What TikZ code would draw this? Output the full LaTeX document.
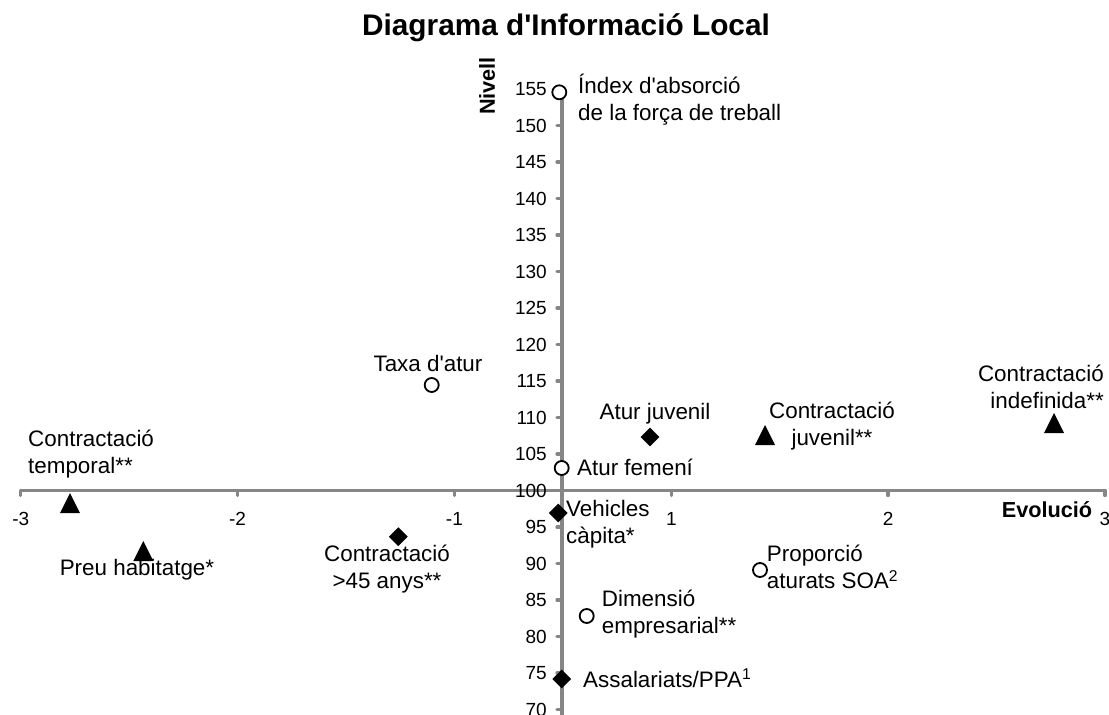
\documentclass[tikz,border=0pt]{standalone}
\usepackage{fontspec}
\setmainfont{Liberation Sans}[Ligatures=TeXOff]
\usetikzlibrary{shapes.geometric}
\definecolor{axgray}{RGB}{134,134,134}
\begin{document}
\begin{tikzpicture}[x=1pt,y=-1pt,
  axis/.style={draw=axgray,line width=3.3pt,line cap=round},
  lbl/.style={font=\fontsize{22.4}{27}\selectfont,inner sep=0pt},
  ticklbl/.style={font=\fontsize{19}{21}\selectfont,inner sep=0pt},
  axtitle/.style={font=\bfseries\fontsize{21.7}{24}\selectfont,inner sep=0pt},
  circ/.style={circle,draw=black,fill=white,line width=1.8pt,minimum size=14pt,inner sep=0pt},
  diam/.style={diamond,fill=black,minimum width=19pt,minimum height=19pt,inner sep=0pt},
  tri/.style={fill=black}
]
\useasboundingbox (0,0) rectangle (1109,715);
\fill[white] (0,0) rectangle (1109,715);
\clip (0,0) rectangle (1109,715);

% title
\node[font=\bfseries\fontsize{29.8}{32}\selectfont,inner sep=0pt] (title) at (566,28) {Diagrama d'Informació Local};

% axes
\coordinate (xl) at (20.7,490.5);
\coordinate (xr) at (1105,490.5);
\coordinate (yt) at (562,88);
\coordinate (yb) at (562,730);
\draw[axis] (xl) -- (xr);
\draw[axis] (yt) -- (yb);

\foreach \i/\l in {0/-3,1/-2,2/-1,3/1,4/2,5/3}{
  \pgfmathsetmacro{\xx}{20.7+216.86*\i}
  \coordinate (xt\i) at (\xx,490.5);
  \draw[axis] (xt\i) -- ++(0,5);
  \node[ticklbl] (xl\i) at (\xx,519) {\l};
}
\foreach \v in {70,75,...,155}{
  \pgfmathsetmacro{\yy}{490.5-7.3*(\v-100)}
  \coordinate (yt\v) at (562,\yy);
  \draw[axis] (yt\v) -- ++(-5,0);
  \node[ticklbl,anchor=east] (yl\v) at (547,\yy) {\v};
}

\node[axtitle,rotate=90] (nivell) at (487,86) {Nivell};
\node[axtitle] (evol) at (1047,510) {Evolució};

% markers
\node[circ] (m1) at (559.3,92.3) {};
\node[circ] (m2) at (431.7,385) {};
\node[diam] (m3) at (650,437) {};
\node[circ] (m4) at (561.7,468) {};
\node[diam] (m5) at (558.3,513) {};
\coordinate (m6) at (765,435);
\coordinate (m7) at (1054,423);
\coordinate (m8) at (70,503);
\coordinate (m9) at (143.3,551);
\node[diam] (m10) at (398.3,536.7) {};
\node[circ] (m11) at (760,570) {};
\node[circ] (m12) at (586.7,616) {};
\node[diam] (m13) at (561.7,679) {};
\foreach \t in {m6,m7,m8,m9}{
  \fill[tri] (\t) ++(-10,10) -- ++(20,0) -- ++(-10,-20) -- cycle;
}

% labels
\node[lbl,anchor=west,align=left] (l1) at (578,99.5) {Índex d'absorció\\de la força de treball};
\node[lbl] (l2) at (428,363) {Taxa d'atur};
\node[lbl] (l3) at (655,414) {Atur juvenil};
\node[lbl,anchor=west] (l4) at (577,467) {Atur femení};
\node[lbl,anchor=west,align=left] (l5) at (566,524) {Vehicles\\càpita*};
\node[lbl,align=center] (l6) at (832,426) {Contractació\\juvenil**};
\node[lbl,anchor=east,align=right] (l7) at (1104,387) {Contractació\\indefinida**};
\node[lbl,anchor=west,align=left] (l8) at (28,454) {Contractació\\temporal**};
\node[lbl] (l9) at (137,570) {Preu habitatge*};
\node[lbl,align=center] (l10) at (387,569) {Contractació\\>45 anys**};
\node[lbl,anchor=west,align=left] (l11) at (766.7,567) {Proporció\\aturats SOA\textsuperscript{2}};
\node[lbl,anchor=west,align=left] (l12) at (601.7,614) {Dimensió\\empresarial**};
\node[lbl,anchor=west] (l13) at (583,678) {Assalariats/PPA\textsuperscript{1}};
\end{tikzpicture}
\end{document}
